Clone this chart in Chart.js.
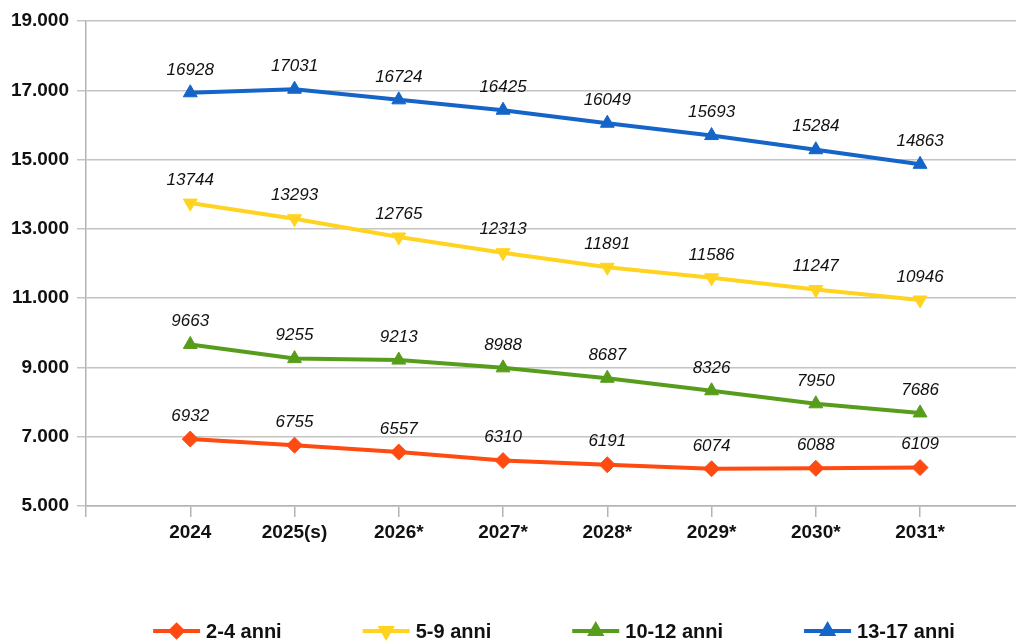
<!DOCTYPE html>
<html>
<head>
<meta charset="utf-8">
<script src="https://cdn.jsdelivr.net/npm/chart.js@4.4.1/dist/chart.umd.min.js"></script>
<style>
    html, body { margin: 0; padding: 0; background: #fff; }
    #wrap { width: 1016px; height: 643px; }
</style>
</head>
<body>
<div id="wrap"><canvas id="popChart" width="1016" height="643"></canvas></div>
<script>
    "use strict";

    // Data
    var years = ["2024", "2025(s)", "2026*", "2027*", "2028*", "2029*", "2030*", "2031*"];
    var anni2_4 = [6932, 6755, 6557, 6310, 6191, 6074, 6088, 6109];
    var anni5_9 = [13744, 13293, 12765, 12313, 11891, 11586, 11247, 10946];
    var anni10_12 = [9663, 9255, 9213, 8988, 8687, 8326, 7950, 7686];
    var anni13_17 = [16928, 17031, 16724, 16425, 16049, 15693, 15284, 14863];
    var yTicks = [5000, 7000, 9000, 11000, 13000, 15000, 17000, 19000];

    var FONT = "'Liberation Sans', Arial, sans-serif";
    var TEXT = "#111";

    function toPoints(arr) {
        return arr.map(function (v, i) { return { x: i + 1, y: v }; });
    }

    function fmt(v) {
        return String(v).replace(/\B(?=(\d{3})+(?!\d))/g, ".");
    }

    function series(label, data, color, style, rot) {
        return {
            label: label,
            data: toPoints(data),
            borderColor: color,
            backgroundColor: color,
            borderWidth: 4,
            pointStyle: style,
            rotation: rot,
            pointRadius: 8,
            pointHoverRadius: 8,
            pointBorderWidth: 1,
            tension: 0
        };
    }

    // Value labels above each point
    var valueLabels = {
        id: "valueLabels",
        afterDatasetsDraw: function (chart) {
            var ctx = chart.ctx;
            ctx.save();
            ctx.font = "italic 17px " + FONT;
            ctx.fillStyle = TEXT;
            ctx.textAlign = "center";
            ctx.textBaseline = "middle";
            chart.data.datasets.forEach(function (ds, di) {
                chart.getDatasetMeta(di).data.forEach(function (pt, i) {
                    ctx.fillText(String(ds.data[i].y), pt.x, pt.y - 23);
                });
            });
            ctx.restore();
        }
    };

    // Legend: line with marker + label, centred under the plot
    var lineLegend = {
        id: "lineLegend",
        afterDraw: function (chart) {
            var ctx = chart.ctx;
            var area = chart.chartArea;
            var lineLen = 47, gapLine = 6, gapItem = 81, y = 631;
            ctx.save();
            ctx.font = "bold 20px " + FONT;
            var widths = chart.data.datasets.map(function (ds) {
                return lineLen + gapLine + ctx.measureText(ds.label).width;
            });
            var total = widths.reduce(function (a, b) { return a + b; }, 0) + gapItem * (widths.length - 1);
            var x = (area.left + area.right) / 2 - total / 2 + 3;
            chart.data.datasets.forEach(function (ds, i) {
                ctx.strokeStyle = ds.borderColor;
                ctx.lineWidth = 4;
                ctx.beginPath();
                ctx.moveTo(x, y);
                ctx.lineTo(x + lineLen, y);
                ctx.stroke();
                ctx.fillStyle = ds.backgroundColor;
                Chart.helpers.drawPoint(ctx, {
                    pointStyle: ds.pointStyle,
                    rotation: ds.rotation,
                    radius: 6,
                    borderWidth: 1
                }, x + lineLen / 2, y);
                ctx.fillStyle = TEXT;
                ctx.textAlign = "left";
                ctx.textBaseline = "middle";
                ctx.fillText(ds.label, x + lineLen + gapLine, y + 1);
                x += widths[i] + gapItem;
            });
            ctx.restore();
        }
    };

    var ctx1 = document.getElementById("popChart").getContext("2d");
    var myChart1 = new Chart(ctx1, {
        type: "line",
        data: {
            datasets: [
                series("2-4 anni", anni2_4, "#ff4a12", "rectRot", 0),
                series("5-9 anni", anni5_9, "#ffd320", "triangle", 180),
                series("10-12 anni", anni10_12, "#579d1c", "triangle", 0),
                series("13-17 anni", anni13_17, "#1565c9", "triangle", 0)
            ]
        },
        options: {
            responsive: false,
            animation: false,
            events: [],
            layout: { autoPadding: false, padding: { top: 21, right: 0, left: 0, bottom: 0 } },
            plugins: {
                legend: { display: false },
                tooltip: { enabled: false }
            },
            scales: {
                x: {
                    type: "linear",
                    min: 0,
                    max: 8.92,
                    afterBuildTicks: function (axis) {
                        axis.ticks = [{ value: 0 }].concat(years.map(function (y, i) { return { value: i + 1 }; }));
                    },
                    afterFit: function (axis) { axis.height = 137; },
                    grid: {
                        drawOnChartArea: false,
                        drawTicks: true,
                        tickLength: 11,
                        color: "#b3b3b3",
                        lineWidth: 1.5
                    },
                    border: { display: true, color: "#b3b3b3", width: 1.5 },
                    ticks: {
                        autoSkip: false,
                        maxRotation: 0,
                        padding: 4,
                        color: TEXT,
                        font: { family: FONT, size: 19, weight: "bold" },
                        callback: function (v) { return years[v - 1] || ""; }
                    }
                },
                y: {
                    min: yTicks[0],
                    max: yTicks[yTicks.length - 1],
                    afterBuildTicks: function (axis) {
                        axis.ticks = yTicks.map(function (v) { return { value: v }; });
                    },
                    afterFit: function (axis) { axis.width = 86; },
                    grid: {
                        color: "#c4c4c4",
                        lineWidth: 1.5,
                        tickLength: 9
                    },
                    border: { display: true, color: "#b3b3b3", width: 1.5 },
                    ticks: {
                        padding: 8,
                        color: TEXT,
                        font: { family: FONT, size: 19, weight: "bold" },
                        callback: function (v) { return fmt(v); }
                    }
                }
            }
        },
        plugins: [valueLabels, lineLegend]
    });
</script>
</body>
</html>
